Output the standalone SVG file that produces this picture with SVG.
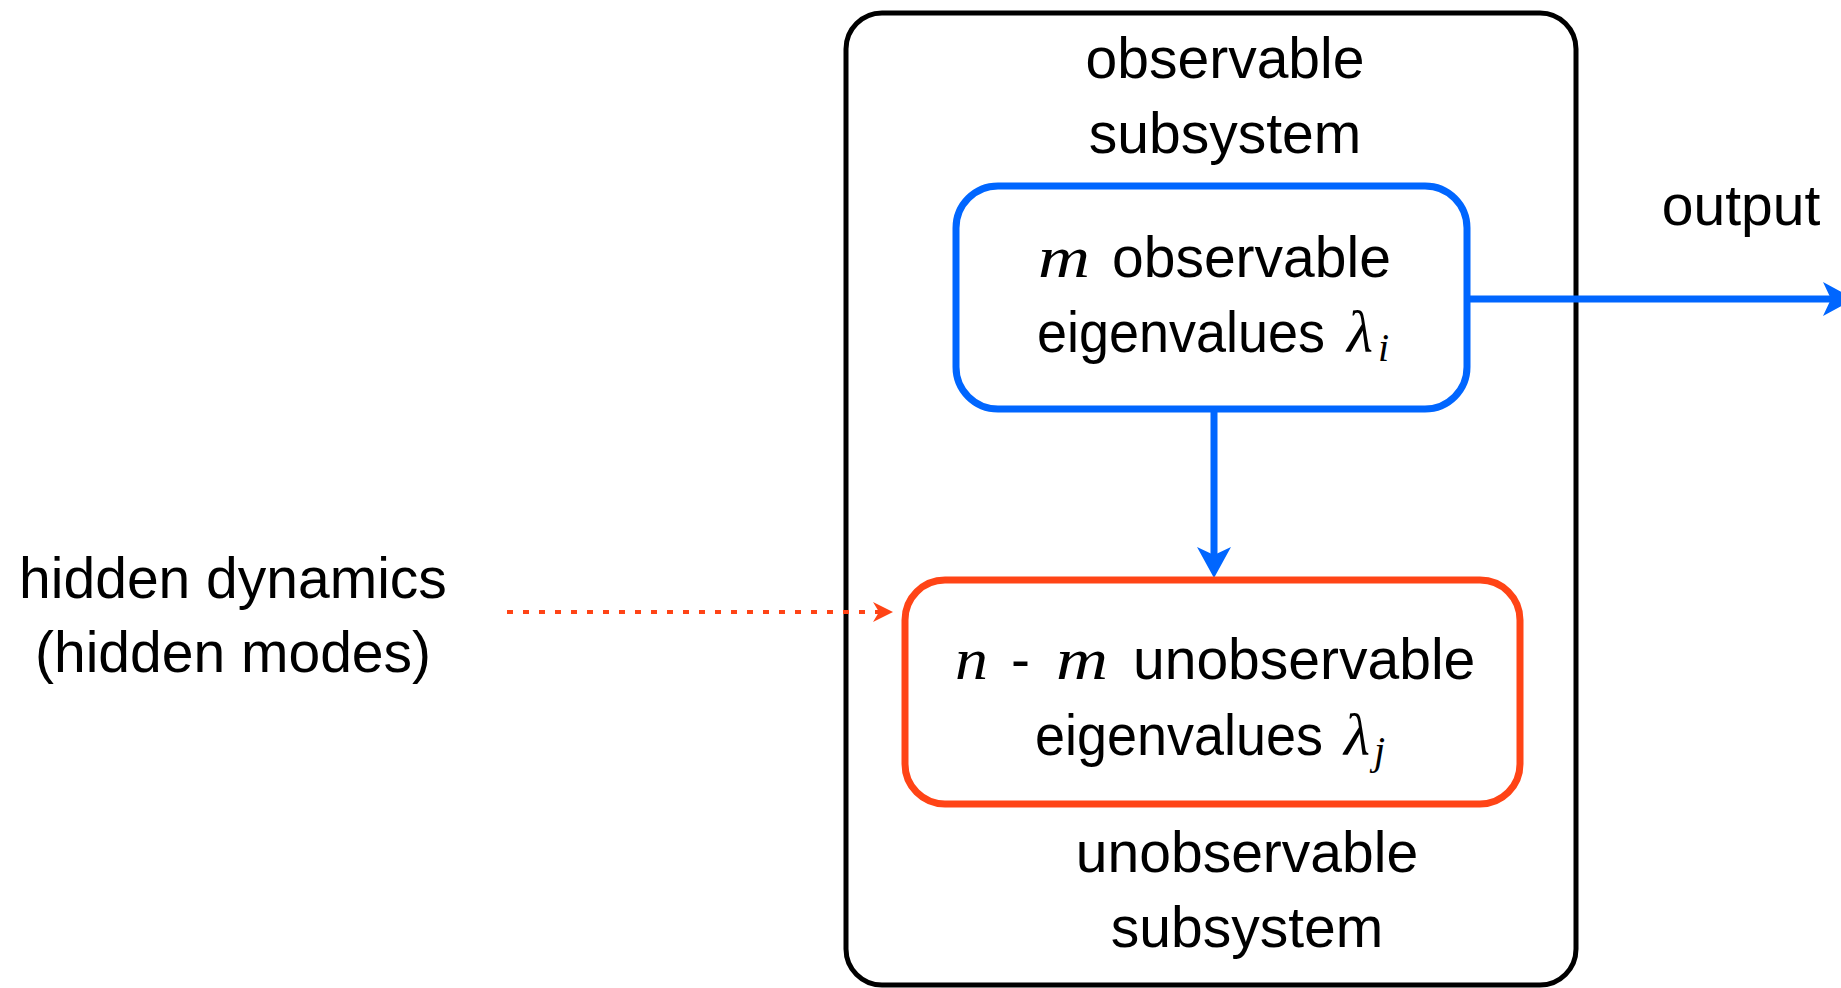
<svg xmlns="http://www.w3.org/2000/svg" width="1841" height="988" viewBox="0 0 1841 988">
<style>
.t{font-family:"Liberation Sans",Arial,sans-serif;font-size:57px;fill:#000}
.mi{font-family:"Liberation Serif","Times New Roman",serif;font-style:italic;font-size:60px;fill:#000}
.sub{font-family:"Liberation Serif","Times New Roman",serif;font-style:italic;font-size:40px;fill:#000}
.c{text-anchor:middle}
</style>
<defs>
<marker id="arrB" markerUnits="userSpaceOnUse" markerWidth="40" markerHeight="40" viewBox="-36 -20 40 40" refX="-23" refY="0" orient="auto">
<path d="M0,0 L-31,-17 L-23,0 L-31,17 Z" fill="#0066ff"/>
</marker>
<marker id="arrR" markerUnits="userSpaceOnUse" markerWidth="30" markerHeight="30" viewBox="-25 -15 30 30" refX="-14" refY="0" orient="auto">
<path d="M0,0 L-20,-10 L-14,0 L-20,10 Z" fill="#ff4416"/>
</marker>
</defs>
<rect width="1841" height="988" fill="#fff"/>

<g id="system">
<rect x="846" y="13" width="730" height="972" rx="36" ry="36" fill="none" stroke="#000" stroke-width="5"/>
<text class="t c" x="1225" y="78">observable</text>
<text class="t c" x="1225" y="153">subsystem</text>
<text class="t c" x="1247" y="872">unobservable</text>
<text class="t c" x="1247" y="947">subsystem</text>
</g>

<g id="connectors">
<line x1="1467" y1="299" x2="1831" y2="299" stroke="#0066ff" stroke-width="7" marker-end="url(#arrB)"/>
<line x1="1214" y1="409" x2="1214" y2="555" stroke="#0066ff" stroke-width="7" marker-end="url(#arrB)"/>
<line x1="507" y1="612" x2="879" y2="612" stroke="#ff4416" stroke-width="4" stroke-dasharray="6 10" marker-end="url(#arrR)"/>
</g>

<g id="observable">
<rect x="956" y="186" width="511" height="223" rx="42" ry="42" fill="none" stroke="#0066ff" stroke-width="7"/>
<text y="277"><tspan class="mi" x="1038" textLength="52" lengthAdjust="spacingAndGlyphs">m</tspan><tspan class="t" x="1112">observable</tspan></text>
<text y="352"><tspan class="t" x="1037" textLength="288" lengthAdjust="spacingAndGlyphs">eigenvalues</tspan><tspan class="mi" x="1347">λ</tspan><tspan class="sub" x="1378" y="361">i</tspan></text>
</g>

<g id="unobservable">
<rect x="905" y="580" width="615" height="224" rx="40" ry="40" fill="none" stroke="#ff4416" stroke-width="7"/>
<text y="679"><tspan class="mi" x="955" textLength="33" lengthAdjust="spacingAndGlyphs">n</tspan><tspan class="t" x="1011">-</tspan><tspan class="mi" x="1056" textLength="52" lengthAdjust="spacingAndGlyphs">m</tspan><tspan class="t" x="1133">unobservable</tspan></text>
<text y="755"><tspan class="t" x="1035" textLength="288" lengthAdjust="spacingAndGlyphs">eigenvalues</tspan><tspan class="mi" x="1344">λ</tspan><tspan class="sub" x="1374" y="764">j</tspan></text>
</g>

<g id="output">
<text class="t c" x="1741" y="225">output</text>
</g>

<g id="hidden">
<text class="t c" x="233" y="598">hidden dynamics</text>
<text class="t c" x="233" y="672">(hidden modes)</text>
</g>
</svg>
